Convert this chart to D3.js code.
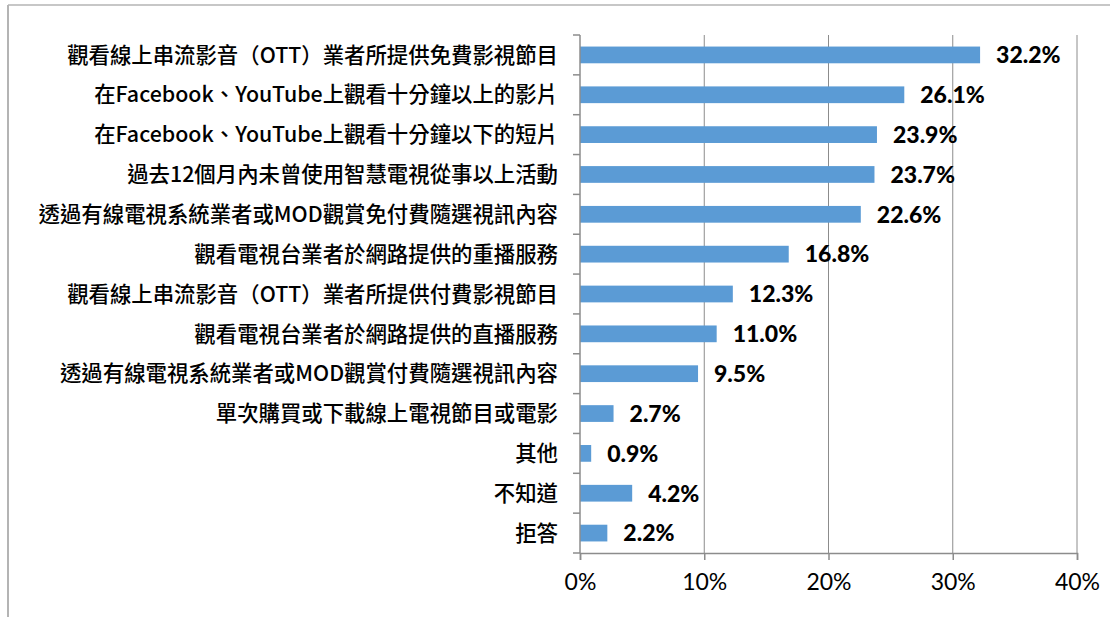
<!DOCTYPE html>
<html>
<head>
<meta charset="utf-8">
<script src="https://cdn.jsdelivr.net/npm/d3@7"></script>
<style>
  body { margin: 0; background: #fff; }
  svg { display: block; }
</style>
</head>
<body>
<div id="chart"></div>
<script>
const categories = [
    "觀看線上串流影音（OTT）業者所提供免費影視節目",
    "在Facebook、YouTube上觀看十分鐘以上的影片",
    "在Facebook、YouTube上觀看十分鐘以下的短片",
    "過去12個月內未曾使用智慧電視從事以上活動",
    "透過有線電視系統業者或MOD觀賞免付費隨選視訊內容",
    "觀看電視台業者於網路提供的重播服務",
    "觀看線上串流影音（OTT）業者所提供付費影視節目",
    "觀看電視台業者於網路提供的直播服務",
    "透過有線電視系統業者或MOD觀賞付費隨選視訊內容",
    "單次購買或下載線上電視節目或電影",
    "其他",
    "不知道",
    "拒答"
];
const values = [32.2, 26.1, 23.9, 23.7, 22.6, 16.8, 12.3, 11.0, 9.5, 2.7, 0.9, 4.2, 2.2];
const xTicks = [0, 10, 20, 30, 40];

const W = 1110, H = 617;
const margin = { top: 35, right: 33, bottom: 64, left: 580 };

const svg = d3.select("#chart")
    .append("svg")
    .attr("width", W)
    .attr("height", H);

// outer frame (only top and left edges are visible)
svg.append("line")
    .attr("x1", 8).attr("x2", W).attr("y1", 5).attr("y2", 5)
    .attr("stroke", "#b4b4b4").attr("stroke-width", 1.5);
svg.append("line")
    .attr("x1", 8).attr("x2", 8).attr("y1", 5).attr("y2", H)
    .attr("stroke", "#b4b4b4").attr("stroke-width", 2);

const x = d3.scaleLinear()
    .domain([0, 40])
    .range([margin.left, W - margin.right]);

const y = d3.scaleBand()
    .domain(categories)
    .range([margin.top, H - margin.bottom])
    .paddingInner(0.58)
    .paddingOuter(0.29);

const yEdges = d3.scaleLinear()
    .domain([0, categories.length])
    .range([margin.top, H - margin.bottom]);

// gridlines
svg.append("g")
    .selectAll("line")
    .data(xTicks.slice(1))
    .join("line")
    .attr("x1", d => x(d)).attr("x2", d => x(d))
    .attr("y1", margin.top).attr("y2", H - margin.bottom)
    .attr("stroke", "#8c8c8c")
    .attr("stroke-width", 1);

// bars
svg.append("g")
    .attr("fill", "#5b9bd5")
    .selectAll("rect")
    .data(values)
    .join("rect")
    .attr("x", x(0))
    .attr("y", (d, i) => y(categories[i]))
    .attr("width", d => x(d) - x(0))
    .attr("height", y.bandwidth());

// value labels
svg.append("g")
    .selectAll("text")
    .data(values)
    .join("text")
    .attr("x", d => x(d) + 16)
    .attr("y", (d, i) => y(categories[i]) + y.bandwidth() / 2)
    .attr("dy", "0.36em")
    .attr("font-family", "Lato, 'Open Sans', sans-serif")
    .attr("font-weight", 900)
    .attr("font-size", 23)
    .attr("fill", "#000")
    .text(d => d.toFixed(1) + "%");

// y axis line and tick marks at category boundaries
const yAxis = svg.append("g");
yAxis.append("line")
    .attr("x1", x(0)).attr("x2", x(0))
    .attr("y1", margin.top).attr("y2", H - margin.bottom)
    .attr("stroke", "#8c8c8c").attr("stroke-width", 1.5);
yAxis.selectAll(".tk")
    .data(d3.range(categories.length + 1))
    .join("line")
    .attr("class", "tk")
    .attr("x1", x(0) - 7).attr("x2", x(0))
    .attr("y1", d => yEdges(d)).attr("y2", d => yEdges(d))
    .attr("stroke", "#8c8c8c").attr("stroke-width", 1.5);

// category labels
yAxis.selectAll("text")
    .data(categories)
    .join("text")
    .attr("x", x(0) - 22)
    .attr("y", d => y(d) + y.bandwidth() / 2)
    .attr("dy", "0.36em")
    .attr("text-anchor", "end")
    .attr("font-family", "'Noto Sans CJK TC', sans-serif")
    .attr("font-weight", 500)
    .attr("font-size", 21.4)
    .attr("fill", "#000")
    .text(d => d);

// x axis
const xAxis = svg.append("g")
    .attr("transform", `translate(0,${H - margin.bottom})`)
    .call(d3.axisBottom(x).tickValues(xTicks).tickSize(7).tickPadding(14).tickFormat(d => d + "%"));
xAxis.select(".domain").attr("stroke", "#8c8c8c").attr("stroke-width", 1.5);
xAxis.selectAll(".tick line").attr("stroke", "#8c8c8c").attr("stroke-width", 1.5);
xAxis.selectAll(".tick text")
    .attr("font-family", "Lato, 'Open Sans', sans-serif")
    .attr("font-size", 23)
    .attr("fill", "#000");
</script>
</body>
</html>
